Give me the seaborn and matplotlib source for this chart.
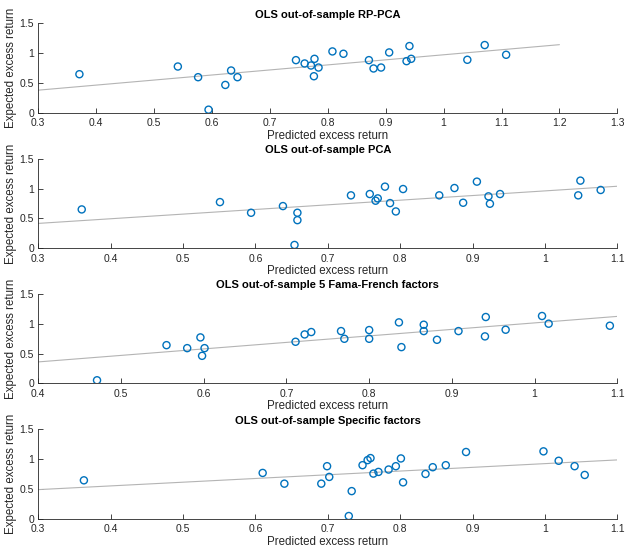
"""
OLS out-of-sample fits: expected vs predicted excess return for four factor models.
"""

import numpy as np
import matplotlib
matplotlib.use("Agg")
import matplotlib.pyplot as plt
import seaborn as sns

# RP-PCA panel
rppca_pred = [0.371, 0.541, 0.576, 0.594, 0.623, 0.633, 0.644, 0.745, 0.760, 0.771,
              0.777, 0.776, 0.784, 0.808, 0.827, 0.871, 0.879, 0.892, 0.906, 0.936,
              0.941, 0.944, 1.041, 1.071, 1.108]
rppca_exp = [0.646, 0.775, 0.596, 0.051, 0.466, 0.708, 0.596, 0.882, 0.826, 0.792,
             0.904, 0.612, 0.758, 1.028, 0.989, 0.882, 0.742, 0.758, 1.011, 0.865,
             1.118, 0.904, 0.888, 1.135, 0.972]

# PCA panel
pca_pred = [0.360, 0.551, 0.594, 0.638, 0.658, 0.658, 0.654, 0.732, 0.758, 0.766,
            0.769, 0.779, 0.786, 0.794, 0.804, 0.854, 0.875, 0.887, 0.906, 0.922,
            0.924, 0.938, 1.046, 1.049, 1.077]
pca_exp = [0.652, 0.775, 0.596, 0.708, 0.596, 0.472, 0.056, 0.888, 0.910, 0.798,
           0.837, 1.034, 0.758, 0.618, 0.994, 0.888, 1.011, 0.764, 1.118, 0.871,
           0.747, 0.910, 0.888, 1.135, 0.978]

# Fama-French 5 factor panel
ff5_pred = [0.471, 0.555, 0.580, 0.596, 0.598, 0.601, 0.711, 0.722, 0.730, 0.766,
            0.770, 0.800, 0.800, 0.836, 0.839, 0.866, 0.866, 0.882, 0.908, 0.941,
            0.940, 0.965, 1.009, 1.017, 1.091]
ff5_exp = [0.051, 0.640, 0.590, 0.770, 0.461, 0.590, 0.697, 0.820, 0.860, 0.876,
           0.747, 0.893, 0.747, 1.022, 0.607, 0.983, 0.876, 0.730, 0.876, 1.112,
           0.787, 0.899, 1.129, 1.000, 0.966]

# Specific factors panel
spec_pred = [0.363, 0.610, 0.640, 0.691, 0.699, 0.702, 0.729, 0.733, 0.748, 0.755,
             0.759, 0.763, 0.770, 0.784, 0.794, 0.801, 0.804, 0.835, 0.845, 0.863,
             0.891, 0.998, 1.019, 1.041, 1.055]
spec_exp = [0.644, 0.768, 0.588, 0.588, 0.881, 0.701, 0.045, 0.463, 0.898, 0.983,
            1.017, 0.757, 0.785, 0.825, 0.881, 1.011, 0.610, 0.751, 0.864, 0.898,
            1.119, 1.130, 0.972, 0.881, 0.734]

titles = ["OLS out-of-sample RP-PCA", "OLS out-of-sample PCA",
          "OLS out-of-sample 5 Fama-French factors", "OLS out-of-sample Specific factors"]
x_limits = [(0.3, 1.3), (0.3, 1.1), (0.4, 1.1), (0.3, 1.1)]
fit_ranges = [(0.3, 1.2), (0.3, 1.1), (0.4, 1.1), (0.3, 1.1)]

BLUE = "#0072BD"
GREY = "#262626"


def draw_panel(ax, pred, exp, title, xlim, fit_range):
    """Scatter of expected vs predicted return with an OLS fit line."""
    slope, intercept = np.polyfit(pred, exp, 1)
    fx = np.array(fit_range)
    sns.lineplot(x=fx, y=intercept + slope * fx, ax=ax, color="#b4b4b4", lw=0.8)
    sns.scatterplot(x=pred, y=exp, ax=ax, marker="o", s=26, color=BLUE,
                    facecolor="none", edgecolor=BLUE, linewidth=1.0, zorder=3)
    ax.set_xlim(*xlim)
    ax.set_ylim(0, 1.5)
    xt = np.round(np.arange(xlim[0], xlim[1] + 0.001, 0.1), 1)
    ax.set_xticks(xt)
    ax.set_xticklabels([f"{t:g}" for t in xt])
    ax.set_yticks([0, 0.5, 1, 1.5])
    ax.set_yticklabels(["0", "0.5", "1", "1.5"])
    ax.tick_params(direction="in", length=3.5, width=0.6, labelsize=7.5,
                   colors=GREY)
    ax.tick_params(axis="x", pad=4)
    ax.tick_params(axis="y", pad=3)
    for side in ["left", "bottom"]:
        ax.spines[side].set_color(GREY)
        ax.spines[side].set_linewidth(0.6)
    for side in ["top", "right"]:
        ax.spines[side].set_visible(False)
    ax.set_title(title, fontsize=8, fontweight="bold", pad=4, color="black")
    ax.set_xlabel("Predicted excess return", fontsize=8.3, color=GREY, labelpad=1)
    ax.set_ylabel("Expected excess return", fontsize=8.3, color=GREY, labelpad=2)


def main():
    sns.set_style("ticks")
    plt.rcParams["font.family"] = ["Liberation Sans", "DejaVu Sans"]
    fig = plt.figure(figsize=(6.29, 5.52), dpi=100)

    bottoms = [0.7958, 0.5502, 0.3056, 0.0603]
    data = [(rppca_pred, rppca_exp), (pca_pred, pca_exp),
            (ff5_pred, ff5_exp), (spec_pred, spec_exp)]
    for i, (pred, exp) in enumerate(data):
        ax = fig.add_axes([0.0609, bottoms[i], 0.9205, 0.162])
        draw_panel(ax, pred, exp, titles[i], x_limits[i], fit_ranges[i])

    fig.savefig("out.png", dpi=100)
    plt.close(fig)


if __name__ == "__main__":
    main()
